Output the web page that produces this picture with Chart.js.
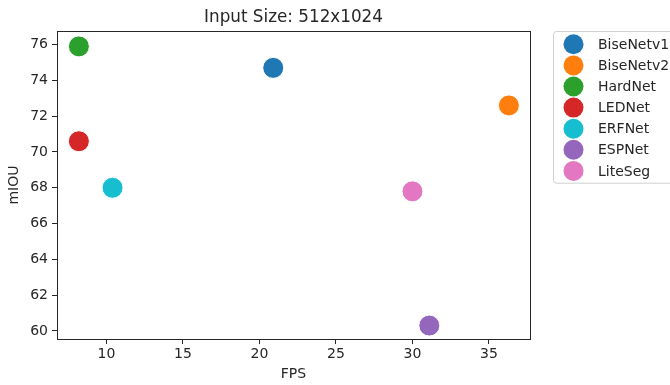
<!DOCTYPE html>
<html>
<head>
<meta charset="utf-8">
<script src="https://cdn.jsdelivr.net/npm/chart.js@4/dist/chart.umd.min.js"></script>
<style>
  html, body { margin: 0; padding: 0; background: #fff; }
  #wrap { width: 670px; height: 385px; position: relative; }
</style>
</head>
<body>
<div id="wrap"><canvas id="scatter"></canvas></div>
<script>
// data
const models = ["BiseNetv1", "BiseNetv2", "HardNet", "LEDNet", "ERFNet", "ESPNet", "LiteSeg"];
const fps = [20.9, 36.3, 8.2, 8.2, 10.4, 31.1, 30.0];
const miou = [74.7, 72.6, 75.9, 70.6, 68.0, 60.3, 67.8];
const colors = ["#1f77b4", "#ff7f0e", "#2ca02c", "#d62728", "#17becf", "#9467bd", "#e377c2"];
const chartTitle = "Input Size: 512x1024";

const FONT = "'DejaVu Sans', sans-serif";
const INK = "#262626";

// frame, title and the outside legend drawn by hand (matplotlib look)
const mplDecor = {
  id: "mplDecor",
  afterDraw(chart) {
    const { ctx, chartArea: a } = chart;
    ctx.save();
    ctx.strokeStyle = INK;
    ctx.lineWidth = 1;
    ctx.strokeRect(Math.round(a.left) + 0.5, Math.round(a.top) + 0.5,
      Math.round(a.right - a.left), Math.round(a.bottom - a.top));

    ctx.fillStyle = INK;
    ctx.font = "16.8px " + FONT;
    ctx.textAlign = "center";
    ctx.textBaseline = "alphabetic";
    ctx.fillText(chartTitle, (a.left + a.right) / 2, 22);

    // legend
    const lx = 553, ly = 31, lw = 130, rowH = 21.1;
    const lh = rowH * models.length + 4;
    ctx.strokeStyle = "#d0d0d0";
    ctx.fillStyle = "#fff";
    ctx.beginPath();
    ctx.roundRect(lx + 0.5, ly + 0.5, lw, lh, 3);
    ctx.fill();
    ctx.stroke();
    ctx.font = "14px " + FONT;
    ctx.textAlign = "left";
    ctx.textBaseline = "middle";
    chart.data.datasets.forEach((ds, i) => {
      const cy = ly + 13.3 + i * rowH;
      ctx.beginPath();
      ctx.arc(573.5, cy, 10, 0, Math.PI * 2);
      ctx.fillStyle = ds.backgroundColor;
      ctx.fill();
      ctx.fillStyle = INK;
      ctx.fillText(ds.label, 598, cy + 1);
    });
    ctx.restore();
  }
};

const datasets = models.map((m, i) => ({
  label: m,
  data: [{ x: fps[i], y: miou[i] }],
  backgroundColor: colors[i],
  borderColor: "#ffffff",
  borderWidth: 1,
  pointRadius: 10.5,
  pointHoverRadius: 10.5
}));

new Chart(document.getElementById("scatter"), {
  type: "scatter",
  data: { datasets },
  options: {
    responsive: true,
    maintainAspectRatio: false,
    animation: false,
    layout: { padding: { left: 0, right: 140, top: 31, bottom: 0 } },
    plugins: {
      legend: { display: false },
      tooltip: { enabled: false }
    },
    scales: {
      x: {
        type: "linear",
        min: 6.77,
        max: 37.68,
        afterFit: s => { s.height = 46; },
        ticks: { stepSize: 5, includeBounds: false, color: INK, padding: 2, font: { family: FONT, size: 14 } },
        grid: { drawOnChartArea: false, drawTicks: true, tickLength: 5, color: INK },
        border: { display: false },
        title: { display: true, text: "FPS", color: INK, font: { family: FONT, size: 14 }, padding: { top: 0, bottom: 2 } }
      },
      y: {
        type: "linear",
        min: 59.55,
        max: 76.76,
        afterFit: s => { s.width = 57; },
        ticks: { stepSize: 2, includeBounds: false, color: INK, padding: 4, font: { family: FONT, size: 14 } },
        grid: { drawOnChartArea: false, drawTicks: true, tickLength: 5, color: INK },
        border: { display: false },
        title: { display: true, text: "mIOU", color: INK, font: { family: FONT, size: 14 }, padding: { top: 6, bottom: 0 } }
      }
    }
  },
  plugins: [mplDecor]
});
</script>
</body>
</html>
